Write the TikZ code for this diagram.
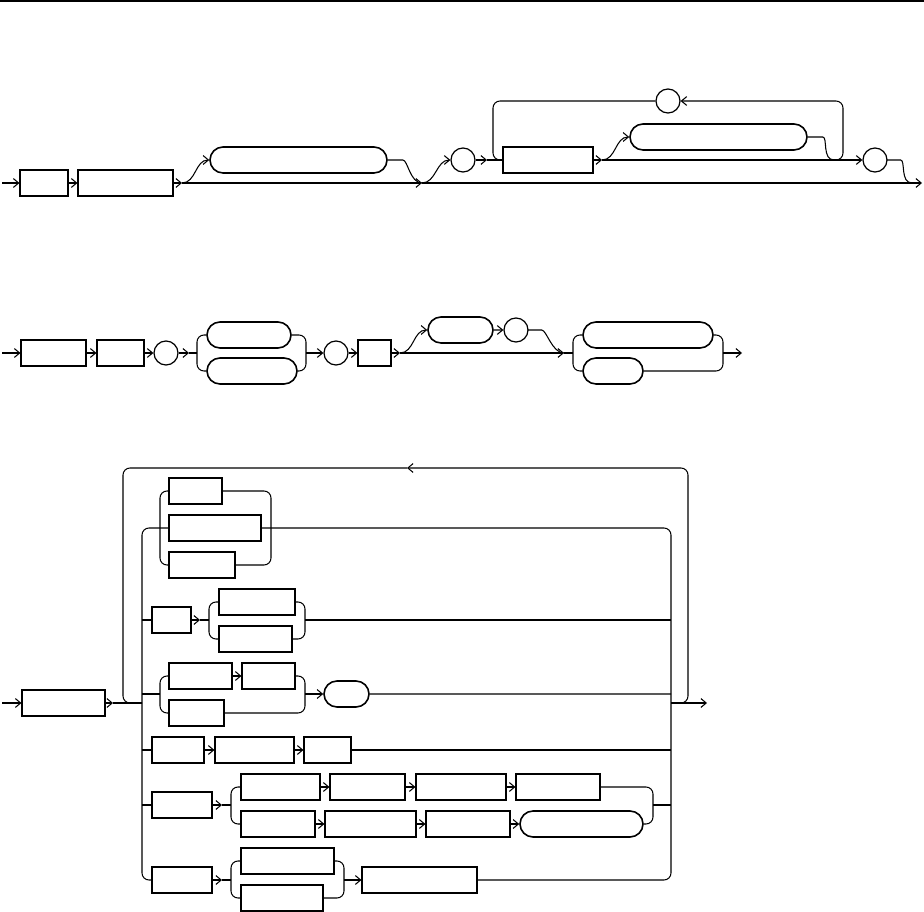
\documentclass[tikz,border=0pt]{standalone}
\usetikzlibrary{arrows.meta, shapes.misc, shadows}
\tikzset{
    rail/.style     ={line width=0.6pt, rounded corners=4pt},
    flowarrow/.style={rail, -{Straight Barb[length=3pt, width=5pt]}},
    kwbox/.style    ={rectangle, draw, fill=white, line width=0.6pt, inner sep=0pt, minimum height=0.52cm, drop shadow={shadow xshift=0.6pt, shadow yshift=-0.6pt, fill=black, opacity=1}},
    termbox/.style  ={rounded rectangle, draw, fill=white, line width=0.9pt, inner sep=0pt, minimum height=0.52cm},
    symbox/.style   ={circle, draw, fill=white, line width=0.7pt, inner sep=0pt, minimum size=0.48cm},
    wd/.style       ={minimum width=#1*0.02cm},
}
\begin{document}
\begin{tikzpicture}[x=0.02cm, y=-0.02cm]
    \useasboundingbox (0,0) rectangle (924,912);
    \draw[line width=0.6pt] (0,1) -- (924,1);

    % first rule
    \coordinate (s1) at (2,183);
    \node[kwbox, wd=48] (d1a) at (44,183) {};
    \node[kwbox, wd=95] (d1b) at (125.5,183) {};
    \coordinate (j1) at (182,183);
    \coordinate (j2) at (422,183);
    \coordinate (e1) at (922,183);
    \node[termbox, wd=177] (d1opt) at (298.5,160) {};
    \node[symbox] (d1c) at (463,160) {};
    \coordinate (j3) at (487,160);
    \node[kwbox, wd=90] (d1d) at (548,160) {};
    \coordinate (j4) at (602,160);
    \node[termbox, wd=177] (d1e) at (718.5,137) {};
    \coordinate (l1) at (830,160);
    \coordinate (l1m) at (834,160);
    \node[symbox] (d1f) at (875,160) {};
    \node[symbox] (d1g) at (668,101) {};

    \draw[flowarrow] (s1) -- (d1a);
    \draw[flowarrow] (d1a) -- (d1b);
    \draw[flowarrow] (d1b) -- (j1);
    \draw[flowarrow] (j1) -- (j2);
    \draw[flowarrow] (j2) -- (e1);
    \draw[flowarrow] (j1) .. controls +(14,0) and +(-14,0) .. (d1opt.west);
    \draw[rail] (d1opt.east) -- ++(8,0) .. controls +(12,0) and +(-12,0) .. (j2);
    \draw[flowarrow] (j2) .. controls +(14,0) and +(-14,0) .. (d1c.west);
    \draw[flowarrow] (d1c) -- (j3);
    \draw[rail] (j3) -- (d1d);
    \draw[flowarrow] (d1d) -- (j4);
    \draw[flowarrow] (j4) -- (d1f);
    \draw[flowarrow] (j4) .. controls +(14,0) and +(-14,0) .. (d1e.west);
    \draw[rail] (d1e.east) -- ++(8,0) .. controls +(12,0) and +(-12,0) .. (l1m);
    \draw[flowarrow] (l1) -| (843,101) -- (d1g);
    \draw[rail] (d1g) -| (493,160) -- (d1d.west);
    \draw[rail] (d1f.east) -- ++(6,0) .. controls +(12,0) and +(-12,0) .. (912,183);

    % second rule
    \coordinate (s2) at (2,353);
    \node[kwbox, wd=65] (d2a) at (53.5,353) {};
    \node[kwbox, wd=47] (d2b) at (120.5,353) {};
    \node[symbox] (d2c) at (166,353) {};
    \coordinate (c2in) at (189,353);
    \coordinate (c2l) at (197,353);
    \node[termbox, wd=84] (d2d) at (249,335) {};
    \node[termbox, wd=90] (d2e) at (252,371) {};
    \coordinate (c2r) at (306,353);
    \node[symbox] (d2f) at (336,353) {};
    \node[kwbox, wd=33] (d2g) at (374.5,353) {};
    \coordinate (j5) at (400,353);
    \node[termbox, wd=65] (d2h) at (460.5,330) {};
    \node[symbox] (d2i) at (516,330) {};
    \coordinate (c2in2) at (564,353);
    \coordinate (c2l2) at (573,353);
    \node[termbox, wd=130] (d2j) at (648,335) {};
    \node[termbox, wd=60] (d2k) at (613,371) {};
    \coordinate (c2r2) at (723,353);
    \coordinate (e2) at (742,353);

    \draw[flowarrow] (s2) -- (d2a);
    \draw[flowarrow] (d2a) -- (d2b);
    \draw[flowarrow] (d2b) -- (d2c);
    \draw[flowarrow] (d2c) -- (c2in);
    \draw[rail] (c2in) -- (c2l);
    \draw[rail] (d2d.west) -| (c2l) |- (d2e.west);
    \draw[rail] (d2d.east) -| (c2r) |- (d2e.east);
    \draw[flowarrow] (c2r) -- (d2f);
    \draw[flowarrow] (d2f) -- (d2g);
    \draw[flowarrow] (d2g) -- (j5);
    \draw[flowarrow] (j5) -- (c2in2);
    \draw[flowarrow] (j5) .. controls +(14,0) and +(-14,0) .. (d2h.west);
    \draw[flowarrow] (d2h) -- (d2i);
    \draw[rail] (d2i.east) -- ++(6,0) .. controls +(12,0) and +(-12,0) .. (c2in2);
    \draw[rail] (c2in2) -- (c2l2);
    \draw[rail] (d2j.west) -| (c2l2) |- (d2k.west);
    \draw[rail] (d2j.east) -| (c2r2) |- (d2k.east);
    \draw[flowarrow] (c2r2) -- (e2);

    % third rule
    \coordinate (s3) at (2,703);
    \node[kwbox, wd=83] (d3a) at (63.5,703) {};
    \coordinate (m3) at (113,703);
    \coordinate (l3l) at (142,703);
    \coordinate (l3r) at (671,703);
    \coordinate (e3) at (707,703);
    \coordinate (l3t) at (407,468);

    \node[kwbox, wd=53] (d3b1) at (195.5,491) {};
    \node[kwbox, wd=92] (d3b2) at (215,528) {};
    \node[kwbox, wd=66] (d3b3) at (202,565) {};

    \node[kwbox, wd=39] (d3c) at (171.5,620) {};
    \coordinate (c3in) at (200,620);
    \coordinate (c3l) at (209,620);
    \node[kwbox, wd=76] (d3c1) at (257,602) {};
    \node[kwbox, wd=73] (d3c2) at (255.5,639) {};
    \coordinate (c3r) at (305,620);

    \coordinate (c4l) at (160,694);
    \node[kwbox, wd=63] (d3d1) at (200.5,676) {};
    \node[kwbox, wd=53] (d3d2) at (268.5,676) {};
    \node[kwbox, wd=55] (d3d3) at (196.5,713) {};
    \coordinate (c4r) at (305,694);
    \node[termbox, wd=45] (d3e) at (346.5,694) {};

    \node[kwbox, wd=52] (d3f1) at (178,750) {};
    \node[kwbox, wd=79] (d3f2) at (254.5,750) {};
    \node[kwbox, wd=47] (d3f3) at (327.5,750) {};

    \node[kwbox, wd=60] (d3g) at (182,805) {};
    \coordinate (c5in) at (222,805);
    \coordinate (c5l) at (231,805);
    \node[kwbox, wd=79] (d3h1) at (280.5,787) {};
    \node[kwbox, wd=75] (d3h2) at (367.5,787) {};
    \node[kwbox, wd=90] (d3h3) at (461,787) {};
    \node[kwbox, wd=84] (d3h4) at (558,787) {};
    \node[kwbox, wd=74] (d3i1) at (278,824) {};
    \node[kwbox, wd=91] (d3i2) at (370.5,824) {};
    \node[kwbox, wd=84] (d3i3) at (468,824) {};
    \node[termbox, wd=123] (d3i4) at (581.5,824) {};
    \coordinate (c5r) at (653,805);

    \node[kwbox, wd=60] (d3j) at (182,880) {};
    \coordinate (c6in) at (222,880);
    \coordinate (c6l) at (231,880);
    \node[kwbox, wd=93] (d3k1) at (287.5,861) {};
    \node[kwbox, wd=82] (d3k2) at (282,898) {};
    \coordinate (c6r) at (344,880);
    \node[kwbox, wd=115] (d3l) at (419.5,880) {};

    \draw[flowarrow] (s3) -- (d3a);
    \draw[flowarrow] (d3a) -- (m3);
    \draw[rail] (m3) -- (l3l);
    \draw[flowarrow] (l3r) -- (e3);
    \draw[flowarrow] (l3r) -| (688,468) -- (l3t);
    \draw[rail] (l3t) -| (123,703) -- (l3l);
    \draw[rail] (d3b2.west) -| (142,880) -- (d3j.west);
    \draw[rail] (d3b2.east) -| (671,880) -- (d3l.east);

    \draw[rail] (d3b1.west) -| (160,528) |- (d3b3.west);
    \draw[rail] (d3b1.east) -| (271,528) |- (d3b3.east);

    \draw[rail] (d3c.west -| l3l) -- (d3c);
    \draw[flowarrow] (d3c) -- (c3in);
    \draw[rail] (c3in) -- (c3l);
    \draw[rail] (d3c1.west) -| (c3l) |- (d3c2.west);
    \draw[rail] (d3c1.east) -| (c3r) |- (d3c2.east);
    \draw[rail] (c3r) -- (c3r -| l3r);

    \draw[rail] (c4l -| l3l) -- (c4l);
    \draw[rail] (d3d1.west) -| (c4l) |- (d3d3.west);
    \draw[flowarrow] (d3d1) -- (d3d2);
    \draw[rail] (d3d2.east) -| (c4r) |- (d3d3.east);
    \draw[flowarrow] (c4r) -- (d3e);
    \draw[rail] (d3e) -- (d3e.east -| l3r);

    \draw[rail] (d3f1.west -| l3l) -- (d3f1);
    \draw[flowarrow] (d3f1) -- (d3f2);
    \draw[flowarrow] (d3f2) -- (d3f3);
    \draw[rail] (d3f3) -- (d3f3.east -| l3r);

    \draw[rail] (d3g.west -| l3l) -- (d3g);
    \draw[flowarrow] (d3g) -- (c5in);
    \draw[rail] (c5in) -- (c5l);
    \draw[rail] (d3h1.west) -| (c5l) |- (d3i1.west);
    \draw[flowarrow] (d3h1) -- (d3h2);
    \draw[flowarrow] (d3h2) -- (d3h3);
    \draw[flowarrow] (d3h3) -- (d3h4);
    \draw[flowarrow] (d3i1) -- (d3i2);
    \draw[flowarrow] (d3i2) -- (d3i3);
    \draw[flowarrow] (d3i3) -- (d3i4);
    \draw[rail] (d3h4.east) -| (c5r) |- (d3i4.east);
    \draw[rail] (c5r) -- (c5r -| l3r);

    \draw[flowarrow] (d3j) -- (c6in);
    \draw[rail] (c6in) -- (c6l);
    \draw[rail] (d3k1.west) -| (c6l) |- (d3k2.west);
    \draw[rail] (d3k1.east) -| (c6r) |- (d3k2.east);
    \draw[flowarrow] (c6r) -- (d3l);
\end{tikzpicture}
\end{document}
